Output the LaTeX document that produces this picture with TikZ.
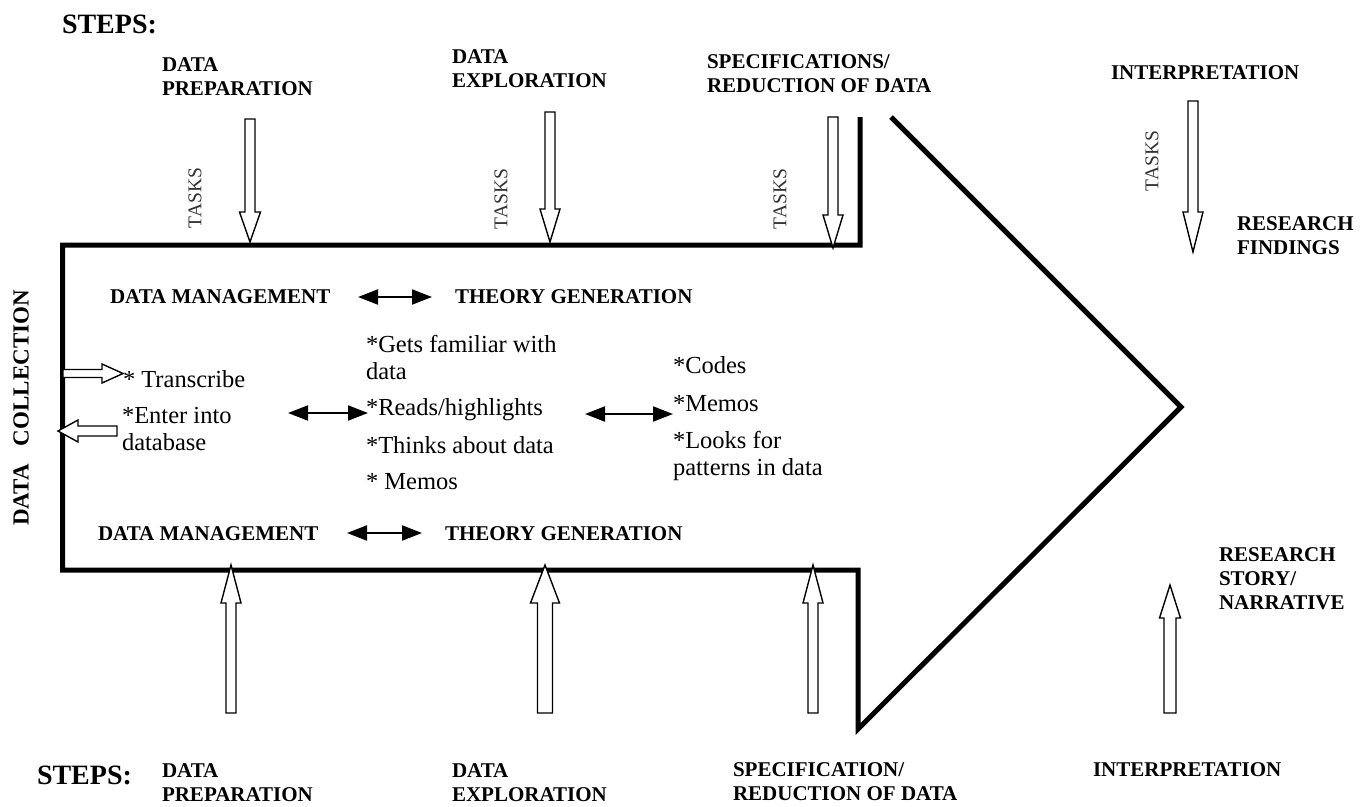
\documentclass[tikz,border=0pt]{standalone}
\usepackage{fontspec}
\setmainfont{Liberation Serif}
\usetikzlibrary{arrows.meta}

% hollow vertical block arrow: x, y tail, y tip, shaft half width, head half width, y of head base
\newcommand{\vblock}[6]{%
  \draw[block] (#1-#4,#2) -- (#1+#4,#2) -- (#1+#4,#6) -- (#1+#5,#6) -- (#1,#3)
    -- (#1-#5,#6) -- (#1-#4,#6) -- cycle;}
% hollow horizontal block arrow: y, x tail, x tip, shaft half width, head half width, x of head base
\newcommand{\hblock}[6]{%
  \draw[block] (#2,#1-#4) -- (#6,#1-#4) -- (#6,#1-#5) -- (#3,#1) -- (#6,#1+#5)
    -- (#6,#1+#4) -- (#2,#1+#4) -- cycle;}

\begin{document}
\begin{tikzpicture}[x=1pt,y=-1pt,
  txt/.style={inner sep=0pt, outer sep=0pt, anchor=north west, align=left},
  steplbl/.style={txt, font=\bfseries\fontsize{21}{24}\selectfont},
  stepshead/.style={txt, font=\bfseries\fontsize{28}{30}\selectfont},
  phase/.style={txt, font=\bfseries\fontsize{21}{24}\selectfont},
  item/.style={txt, font=\fontsize{24.5}{27}\selectfont},
  tasklbl/.style={inner sep=0pt, rotate=90, font=\fontsize{19.5}{20}\selectfont, text=black!80},
  sidelbl/.style={inner sep=0pt, rotate=90, font=\bfseries\fontsize{23}{24}\selectfont},
  outline/.style={line width=5pt, line join=miter},
  block/.style={draw, fill=white, line width=1.4pt, line join=miter},
  twoway/.style={line width=2pt,
    {Triangle[length=20pt,width=15pt]}-{Triangle[length=20pt,width=15pt]}},
]
\useasboundingbox[fill=white] (0,0) rectangle (1364,806);

% ---- the big arrow outline ----
\draw[outline] (860,117) -- (860,245) -- (62.5,245) -- (62.5,570) -- (858,570)
  -- (858,729) -- (1181,407) -- (891,117);

% ---- top row of steps ----
\node[stepshead] (stepsT) at (62,15) {STEPS:};
\node[steplbl] (prepT) at (162,58) {DATA\\PREPARATION};
\node[steplbl] (explT) at (452,50) {DATA\\EXPLORATION};
\node[steplbl] (specT) at (707,55) {SPECIFICATIONS/\\REDUCTION OF DATA};
\node[steplbl] (interpT) at (1111,66) {INTERPRETATION};
\node[steplbl] (findings) at (1237,217) {RESEARCH\\FINDINGS};

\node[tasklbl] (tasks1) at (195,198) {TASKS};
\node[tasklbl] (tasks2) at (501,199) {TASKS};
\node[tasklbl] (tasks3) at (780,199) {TASKS};
\node[tasklbl] (tasks4) at (1152,161) {TASKS};

\vblock{250}{119}{242}{5}{10.5}{212}
\vblock{550}{112}{242}{5}{10}{209}
\vblock{833}{117}{248}{5}{10}{215}
\vblock{1193}{101}{252}{5}{10}{212}

% ---- bottom row of steps ----
\node[stepshead] (stepsB) at (37,766) {STEPS:};
\node[steplbl] (prepB) at (162,764) {DATA\\PREPARATION};
\node[steplbl] (explB) at (452,764) {DATA\\EXPLORATION};
\node[steplbl] (specB) at (733,763) {SPECIFICATION/\\REDUCTION OF DATA};
\node[steplbl] (interpB) at (1093,763) {INTERPRETATION};
\node[steplbl] (story) at (1219,548) {RESEARCH\\STORY/\\NARRATIVE};

\vblock{231}{713}{565}{5}{10}{603}
\vblock{545}{713}{565}{7.5}{14.5}{603}
\vblock{813}{713}{565}{5}{10}{603}
\vblock{1170}{713}{585}{6}{10.5}{618}

% ---- side label ----
\node[sidelbl] (collect) at (21,408) {DATA\hspace{18pt}COLLECTION};

% ---- phases inside the arrow ----
\node[phase] (dmT) at (110,290) {DATA MANAGEMENT};
\node[phase] (tgT) at (455,290) {THEORY GENERATION};
\node[phase] (dmB) at (98,527) {DATA MANAGEMENT};
\node[phase] (tgB) at (445,527) {THEORY GENERATION};

\coordinate (dmTe) at (358,297);
\coordinate (tgTw) at (432,297);
\coordinate (dmBe) at (347,533);
\coordinate (tgBw) at (422,533);
\draw[twoway] (dmTe) -- (tgTw);
\draw[twoway] (dmBe) -- (tgBw);

% ---- task lists ----
\node[item] (transcribe) at (123,370) {* Transcribe};
\node[item] (enter) at (122,407) {*Enter into\\database};

\node[item] (familiar) at (366,335) {*Gets familiar with\\data};
\node[item] (reads) at (366,398) {*Reads/highlights};
\node[item] (thinks) at (366,436) {*Thinks about data};
\node[item] (memosA) at (366,473) {* Memos};

\node[item] (codes) at (673,356) {*Codes};
\node[item] (memosB) at (673,395) {*Memos};
\node[item] (looks) at (673,431) {*Looks for\\patterns in data};

\coordinate (mgmtR) at (288,413);
\coordinate (explL) at (368,413);
\coordinate (explR) at (585,414);
\coordinate (specL) at (673,414);
\draw[twoway] (mgmtR) -- (explL);
\draw[twoway] (explR) -- (specL);

% in and out of data collection
\hblock{373.5}{63}{123}{4}{9.5}{102}
\hblock{431}{117}{58}{5}{11}{78}

\end{tikzpicture}
\end{document}
